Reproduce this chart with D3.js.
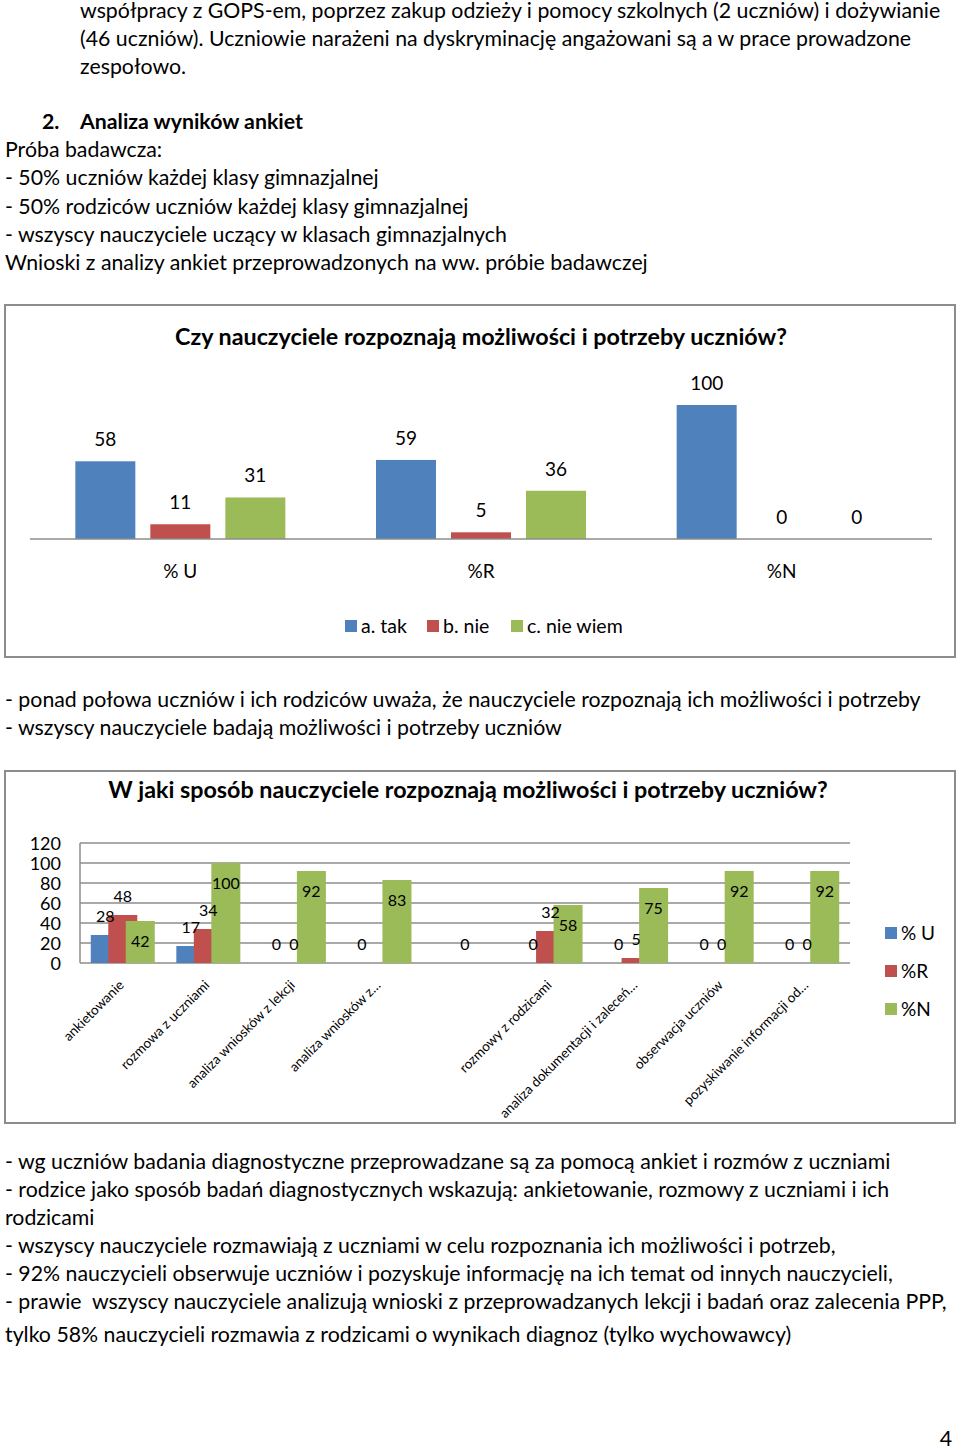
<!DOCTYPE html>
<html>
<head>
<meta charset="utf-8">
<script src="https://cdn.jsdelivr.net/npm/d3@7"></script>
<style>
  body { margin: 0; background: #fff; }
  svg text { font-family: Lato, "Open Sans", sans-serif; fill: #000; }
</style>
</head>
<body>
<svg id="page" width="960" height="1450"></svg>
<script>
// ---- data ----
const chart1Title = "Czy nauczyciele rozpoznają możliwości i potrzeby uczniów?";
const chart1Groups = ["% U", "%R", "%N"];
const chart1Series = ["a. tak", "b. nie", "c. nie wiem"];
const chart1Tak = [58, 59, 100];
const chart1Nie = [11, 5, 0];
const chart1NieWiem = [31, 36, 0];

const chart2Title = "W jaki sposób nauczyciele rozpoznają możliwości i potrzeby uczniów?";
const chart2Categories = [
  "ankietowanie",
  "rozmowa z uczniami",
  "analiza wniosków z lekcji",
  "analiza wniosków z…",
  "",
  "rozmowy z rodzicami",
  "analiza dokumentacji i zaleceń…",
  "obserwacja uczniów",
  "pozyskiwanie informacji od…"
];
const chart2Series = ["% U", "%R", "%N"];
const chart2U = [28, 17, 0, 0, null, 0, 0, 0, 0];
const chart2R = [48, 34, 0, null, 0, 32, 5, 0, 0];
const chart2N = [42, 100, 92, 83, null, 58, 75, 92, 92];
const chart2Ticks = [0, 20, 40, 60, 80, 100, 120];

const colors = ["#4F81BD", "#C0504D", "#9BBB59"];

const textTop = [
  "współpracy z GOPS-em, poprzez zakup odzieży i pomocy szkolnych (2 uczniów) i dożywianie",
  "(46 uczniów). Uczniowie narażeni na dyskryminację angażowani są a w prace prowadzone",
  "zespołowo."
];
const textSample = [
  "Próba badawcza:",
  "- 50% uczniów każdej klasy gimnazjalnej",
  "- 50% rodziców uczniów każdej klasy gimnazjalnej",
  "- wszyscy nauczyciele uczący w klasach gimnazjalnych",
  "Wnioski z analizy ankiet przeprowadzonych na ww. próbie badawczej"
];
const textMiddle = [
  "- ponad połowa uczniów i ich rodziców uważa, że nauczyciele rozpoznają ich możliwości i potrzeby",
  "- wszyscy nauczyciele badają możliwości i potrzeby uczniów"
];
const textBottom = [
  "- wg uczniów badania diagnostyczne przeprowadzane są za pomocą ankiet i rozmów z uczniami",
  "- rodzice jako sposób badań diagnostycznych wskazują: ankietowanie, rozmowy z uczniami i ich",
  "rodzicami",
  "- wszyscy nauczyciele rozmawiają z uczniami w celu rozpoznania ich możliwości i potrzeb,",
  "- 92% nauczycieli obserwuje uczniów i pozyskuje informację na ich temat od innych nauczycieli,",
  "- prawie  wszyscy nauczyciele analizują wnioski z przeprowadzanych lekcji i badań oraz zalecenia PPP,",
  "tylko 58% nauczycieli rozmawia z rodzicami o wynikach diagnoz (tylko wychowawcy)"
];

const svg = d3.select("#page");
const bodySize = 21.3;
const titleSize = 23.3;

// ---- body text ----
function lines(list, x, y0, step) {
  svg.append("g").selectAll("text").data(list).join("text")
    .attr("x", x)
    .attr("y", (d, i) => y0 + i * step)
    .attr("font-size", bodySize)
    .attr("xml:space", "preserve")
    .style("white-space", "pre")
    .text(d => d);
}
lines(textTop, 80, 18, 28);
svg.append("text").attr("x", 42).attr("y", 129).attr("font-size", bodySize)
  .attr("font-weight", "bold").text("2.");
svg.append("text").attr("x", 80).attr("y", 129).attr("font-size", bodySize)
  .attr("font-weight", "bold").text("Analiza wyników ankiet");
lines(textSample, 5, 157, 28.3);
lines(textMiddle, 5, 707, 28);
lines(textBottom.slice(0, 6), 5, 1169, 28);
lines(textBottom.slice(6), 5, 1342, 28);
svg.append("text").attr("x", 952).attr("y", 1446).attr("text-anchor", "end")
  .attr("font-size", bodySize).text("4");

// ---- chart 1 ----
const c1 = svg.append("g");
c1.append("rect").attr("x", 5).attr("y", 305).attr("width", 950).attr("height", 352)
  .attr("fill", "#fff").attr("stroke", "#8c8c8c").attr("stroke-width", 2);
c1.append("text").attr("x", 481).attr("y", 345).attr("text-anchor", "middle")
  .attr("font-size", titleSize).attr("font-weight", "bold").text(chart1Title);

const x1 = d3.scaleBand().domain(chart1Groups).range([30, 932]);
const y1 = d3.scaleLinear().domain([0, 100]).range([539, 405]);
const barW1 = 60, gap1 = 15;
const c1Values = [chart1Tak, chart1Nie, chart1NieWiem];

c1Values.forEach((vals, s) => {
  const off = (s - 1) * (barW1 + gap1) - barW1 / 2;
  const g = c1.append("g");
  g.selectAll("rect").data(vals).join("rect")
    .attr("x", (d, i) => x1(chart1Groups[i]) + x1.bandwidth() / 2 + off)
    .attr("y", d => y1(d))
    .attr("width", barW1)
    .attr("height", d => y1(0) - y1(d))
    .attr("fill", colors[s]);
  g.selectAll("text").data(vals).join("text")
    .attr("x", (d, i) => x1(chart1Groups[i]) + x1.bandwidth() / 2 + off + barW1 / 2)
    .attr("y", d => y1(d) - 15)
    .attr("text-anchor", "middle")
    .attr("font-size", 19)
    .text(d => d);
});

c1.append("line").attr("x1", 30).attr("x2", 932).attr("y1", 539).attr("y2", 539)
  .attr("stroke", "#8c8c8c").attr("stroke-width", 1.5);
c1.append("g").selectAll("text").data(chart1Groups).join("text")
  .attr("x", d => x1(d) + x1.bandwidth() / 2)
  .attr("y", 578)
  .attr("text-anchor", "middle")
  .attr("font-size", 19)
  .text(d => d);

// legend chart 1
const leg1X = [345, 427, 511];
const leg1 = c1.append("g").selectAll("g").data(chart1Series).join("g")
  .attr("transform", (d, i) => `translate(${leg1X[i]},620)`);
leg1.append("rect").attr("width", 12).attr("height", 12).attr("fill", (d, i) => colors[i]);
leg1.append("text").attr("x", 16).attr("y", 13).attr("font-size", 19.5).text(d => d);

// ---- chart 2 ----
const c2 = svg.append("g");
c2.append("rect").attr("x", 5).attr("y", 771).attr("width", 950).attr("height", 352)
  .attr("fill", "#fff").attr("stroke", "#8c8c8c").attr("stroke-width", 2);
c2.append("text").attr("x", 468).attr("y", 798).attr("text-anchor", "middle")
  .attr("font-size", titleSize).attr("font-weight", "bold").text(chart2Title);

const x2 = d3.scaleBand().domain(d3.range(chart2Categories.length)).range([80, 850]);
const y2 = d3.scaleLinear().domain([0, 120]).range([963, 843]);

c2.append("g").selectAll("line").data(chart2Ticks).join("line")
  .attr("x1", 80).attr("x2", 850)
  .attr("y1", d => y2(d)).attr("y2", d => y2(d))
  .attr("stroke", "#8c8c8c").attr("stroke-width", 1.5);
c2.append("line").attr("x1", 80).attr("x2", 80).attr("y1", y2(120)).attr("y2", y2(0))
  .attr("stroke", "#8c8c8c").attr("stroke-width", 1.5);
c2.append("g").selectAll("text").data(chart2Ticks).join("text")
  .attr("x", 61).attr("y", d => y2(d) + 6.5)
  .attr("text-anchor", "end").attr("font-size", 18)
  .text(d => d);

const barW2 = 29, step2 = 17.5;
const c2Values = [chart2U, chart2R, chart2N];
const c2Pts = c2Values.map(vals => vals.map((v, i) => ({ v, i })).filter(d => d.v !== null));
const bx = (d, s) => x2(d.i) + x2.bandwidth() / 2 + (s - 1) * step2 - barW2 / 2;

// bars first, then all value labels on top
c2Pts.forEach((pts, s) => {
  c2.append("g").selectAll("rect").data(pts).join("rect")
    .attr("x", d => bx(d, s))
    .attr("y", d => y2(d.v))
    .attr("width", barW2)
    .attr("height", d => y2(0) - y2(d.v))
    .attr("fill", colors[s]);
});
c2Pts.forEach((pts, s) => {
  c2.append("g").selectAll("text").data(pts).join("text")
    .attr("x", d => bx(d, s) + barW2 / 2)
    .attr("y", d => s === 2 ? y2(d.v) + 26 : y2(d.v) - 13)
    .attr("text-anchor", "middle")
    .attr("font-size", 16)
    .text(d => d.v);
});

c2.append("g").selectAll("text").data(chart2Categories).join("text")
  .attr("transform", (d, i) => `translate(${x2(i) + x2.bandwidth() / 2 + 2},986) rotate(-45)`)
  .attr("text-anchor", "end")
  .attr("font-size", 13.5)
  .text(d => d);

// legend chart 2
const leg2 = c2.append("g").selectAll("g").data(chart2Series).join("g")
  .attr("transform", (d, i) => `translate(885,${927 + i * 38})`);
leg2.append("rect").attr("width", 12).attr("height", 12).attr("fill", (d, i) => colors[i]);
leg2.append("text").attr("x", 16).attr("y", 13).attr("font-size", 19).text(d => d);
</script>
</body>
</html>
